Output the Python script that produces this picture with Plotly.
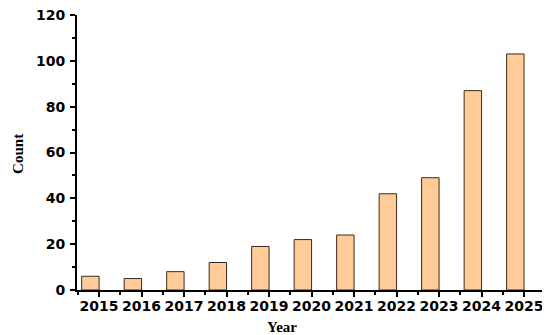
import plotly.graph_objects as go

# data
years = [2015, 2016, 2017, 2018, 2019, 2020, 2021, 2022, 2023, 2024, 2025]
counts = [6, 5, 8, 12, 19, 22, 24, 42, 49, 87, 103]
year_labels = [str(y) for y in years]

fig = go.Figure()

fig.add_trace(go.Bar(
    x=years, y=counts,
    width=0.41, offset=-0.41,
    marker=dict(color="#FFCC99", line=dict(color="#3a2a1a", width=1)),
))

tick_font = dict(family="DejaVu Sans", size=14, color="black", weight="bold")
title_font = dict(family="Liberation Serif", size=15, color="black", weight="bold")

# the page body adds an 8px margin, so the figure is 8px smaller than the window
fig.update_layout(
    width=542, height=327,
    margin=dict(l=69, r=3, t=7, b=45),
    paper_bgcolor="white", plot_bgcolor="white",
    showlegend=False,
)

fig.update_xaxes(
    range=[2014.48, 2025.54], automargin=False, ticklabeloverflow="allow",
    tickvals=years, ticktext=year_labels, ticklabelstandoff=-3,
    ticks="outside", ticklen=5, tickwidth=1.5, tickcolor="black",
    minor=dict(ticks="outside", ticklen=3, tickwidth=1.5, tickcolor="black", dtick=1, tick0=0.5),
    showline=True, linecolor="black", linewidth=2,
    showgrid=False, zeroline=False,
    tickfont=tick_font,
)

fig.update_yaxes(
    range=[0, 120], dtick=20, automargin=False, ticklabeloverflow="allow",
    ticklabelstandoff=2,
    ticks="outside", ticklen=5, tickwidth=1.5, tickcolor="black",
    minor=dict(ticks="outside", ticklen=3, tickwidth=1.5, tickcolor="black", dtick=10),
    showline=True, linecolor="black", linewidth=2,
    showgrid=False, zeroline=False,
    tickfont=tick_font,
)

# axis titles as annotations so they sit where the reference has them
fig.add_annotation(text="Year", xref="paper", yref="paper", x=0.436, y=-0.135,
                   xanchor="center", yanchor="middle", showarrow=False, font=title_font)
fig.add_annotation(text="Count", xref="paper", yref="paper", x=-0.1468, y=0.495,
                   xanchor="left", yanchor="middle", textangle=-90, showarrow=False, font=title_font)

fig.write_html("out.html")
